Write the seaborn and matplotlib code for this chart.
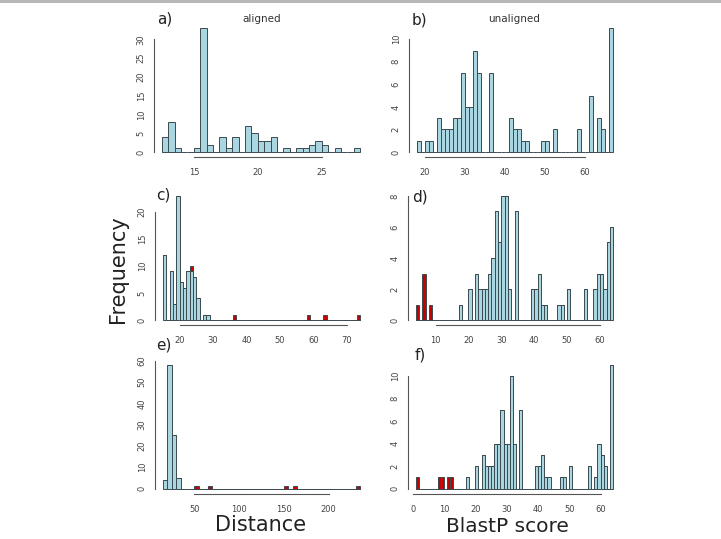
import numpy as np
import pandas as pd
import seaborn as sns
import matplotlib.pyplot as plt
from matplotlib.patches import Rectangle

### HISTOGRAM COUNTS (first bin edge, bin width, counts per bin)
A_START, A_WIDTH = 12.5, 0.5
A_COUNTS = [4, 8, 1, 0, 0, 1, 33, 2, 0, 4, 1, 4, 0, 7, 5, 3, 3, 4, 0, 1, 0,
            1, 1, 2, 3, 2, 0, 1, 0, 0, 1]

B_START, B_WIDTH = 18, 1
B_COUNTS = [1, 0, 1, 1, 0, 3, 2, 2, 2, 3, 3, 7, 4, 4, 9, 7, 0, 0, 7, 0, 0, 0,
            0, 3, 2, 2, 1, 1, 0, 0, 0, 1, 1, 0, 2, 0, 0, 0, 0, 0, 2, 0, 0, 5,
            0, 3, 2, 0, 11]

C_START, C_WIDTH = 15, 1
C_COUNTS = [12, 0, 9, 3, 23, 7, 6, 9, 9, 8, 4, 0, 1, 1]
C_RED_BINS = [23, 36, 58, 63, 73]
C_RED_COUNTS = [1, 1, 1, 1, 1]

D_START, D_WIDTH = 17, 1
D_COUNTS = [1, 0, 0, 2, 0, 3, 2, 2, 2, 3, 4, 7, 5, 8, 8, 2, 0, 7, 0, 0, 0, 0,
            2, 2, 3, 1, 1, 0, 0, 0, 1, 1, 0, 2, 0, 0, 0, 0, 2, 0, 0, 2, 3, 3,
            2, 5, 6]
D_RED_BINS = [4, 6, 8]
D_RED_COUNTS = [1, 3, 1]

E_START, E_WIDTH = 15, 5
E_COUNTS = [4, 58, 25, 5]
E_RED_BINS = [50, 65, 150, 160, 230]
E_RED_COUNTS = [1, 1, 1, 1, 1]

F_START, F_WIDTH = 17, 1
F_COUNTS = [1, 0, 0, 2, 0, 3, 2, 2, 2, 4, 4, 7, 4, 4, 10, 4, 0, 7, 0, 0, 0, 0,
            2, 2, 3, 1, 1, 0, 0, 0, 1, 1, 0, 2, 0, 0, 0, 0, 0, 2, 0, 1, 4, 3,
            2, 0, 11]
F_RED_BINS = [1, 8, 9, 11, 12]
F_RED_COUNTS = [1, 1, 1, 1, 1]

# tick positions of each panel
A_XTICKS, A_YTICKS = [15, 20, 25], [0, 5, 10, 15, 20, 25, 30]
B_XTICKS, B_YTICKS = [20, 30, 40, 50, 60], [0, 2, 4, 6, 8, 10]
C_XTICKS, C_YTICKS = [20, 30, 40, 50, 60, 70], [0, 5, 10, 15, 20]
D_XTICKS, D_YTICKS = [10, 20, 30, 40, 50, 60], [0, 2, 4, 6, 8]
E_XTICKS, E_YTICKS = [50, 100, 150, 200], [0, 10, 20, 30, 40, 50, 60]
F_XTICKS, F_YTICKS = [0, 10, 20, 30, 40, 50, 60], [0, 2, 4, 6, 8, 10]

BLUE = "#a9d6e1"
RED = "#c80000"
EDGE = "#3b4b50"
AXIS_GREY = "#555555"

W, H = 721, 539


def fx(x):
    return x / W


def fy(y):
    return 1 - y / H


def hist_frame(start, width, counts, red_bins=(), red_counts=()):
    """Long table of bin centres and counts, one row per bin."""
    rows = [(start + i * width + width / 2, n, "blue") for i, n in enumerate(counts)]
    rows += [(b + width / 2, n, "red") for b, n in zip(red_bins, red_counts)]
    return pd.DataFrame(rows, columns=["x", "n", "group"])


def draw_panel(rect, start, width, counts, xticks, yticks,
               red_bins=(), red_counts=()):
    left, right, top, bottom = rect
    ax = fig.add_axes([fx(left), fy(bottom), fx(right - left), (bottom - top) / H])
    df = hist_frame(start, width, counts, red_bins, red_counts)

    lo = min([start] + list(red_bins))
    hi = max([start + len(counts) * width] + [b + width for b in red_bins])

    order = [g for g in ["red", "blue"] if g in set(df["group"])]
    sns.histplot(data=df, x="x", weights="n", hue="group", hue_order=order,
                 multiple="stack", binwidth=width, binrange=(lo, hi),
                 palette={"blue": BLUE, "red": RED},
                 edgecolor=EDGE, linewidth=0.7, alpha=1, legend=False, ax=ax)

    # R-style 4% padding around the data range
    ymax = (df.groupby("x")["n"].sum()).max()
    xpad = 0.04 * (hi - lo)
    ax.set_xlim(lo - xpad, hi + xpad)
    ax.set_ylim(-0.04 * ymax, ymax * 1.04)
    ax.set_xticks(xticks)
    ax.set_yticks(yticks)
    ax.set_xlabel("")
    ax.set_ylabel("")
    ax.tick_params(axis="both", length=3, width=0.7, color=AXIS_GREY,
                   labelcolor="#444444", labelsize=6)
    ax.tick_params(axis="x", pad=5)
    ax.tick_params(axis="y", pad=3, labelrotation=90)
    for lab in ax.get_yticklabels():
        lab.set_verticalalignment("center")
    for side in ["left", "bottom"]:
        ax.spines[side].set_color(AXIS_GREY)
        ax.spines[side].set_linewidth(0.8)
    sns.despine(ax=ax, trim=True)
    return ax


sns.set_style("white")
plt.rcParams["font.family"] = ["DejaVu Sans"]

fig = plt.figure(figsize=(W / 100, H / 100), dpi=100)

# panel rectangles in pixels: left, right, top, bottom
draw_panel((154, 368, 23, 157), A_START, A_WIDTH, A_COUNTS, A_XTICKS, A_YTICKS)
draw_panel((409, 621, 23, 157), B_START, B_WIDTH, B_COUNTS, B_XTICKS, B_YTICKS)
draw_panel((155, 368, 191, 325), C_START, C_WIDTH, C_COUNTS, C_XTICKS, C_YTICKS,
           C_RED_BINS, C_RED_COUNTS)
draw_panel((408, 621, 191, 325), D_START, D_WIDTH, D_COUNTS, D_XTICKS, D_YTICKS,
           D_RED_BINS, D_RED_COUNTS)
draw_panel((155, 368, 360, 493.5), E_START, E_WIDTH, E_COUNTS, E_XTICKS, E_YTICKS,
           E_RED_BINS, E_RED_COUNTS)
draw_panel((408, 621, 360, 493.5), F_START, F_WIDTH, F_COUNTS, F_XTICKS, F_YTICKS,
           F_RED_BINS, F_RED_COUNTS)

# panel letters and titles
for label, x, y in [("a)", 165, 19.5), ("b)", 419, 20), ("c)", 163, 195.5),
                    ("d)", 420, 196.5), ("e)", 164, 344.5), ("f)", 420, 355.5)]:
    fig.text(fx(x), fy(y), label, fontsize=11, ha="center", va="center", color="#222222")
fig.text(fx(261.5), fy(18.5), "aligned", fontsize=7.5, ha="center", va="center", color="#333333")
fig.text(fx(514.5), fy(18.5), "unaligned", fontsize=7.5, ha="center", va="center", color="#333333")

fig.text(fx(118), fy(269), "Frequency", fontsize=15, rotation=90,
         ha="center", va="center", color="#222222")
fig.text(fx(260.5), fy(525), "Distance", fontsize=15, ha="center", va="center", color="#222222")
fig.text(fx(507), fy(527), "BlastP score", fontsize=14.5, ha="center", va="center", color="#222222")

# thin grey frame line along the top edge
fig.add_artist(Rectangle((0, fy(3)), 1, 3 / H, transform=fig.transFigure,
                         color="#b8b8b8", lw=0))

fig.savefig("out.png", dpi=100)
